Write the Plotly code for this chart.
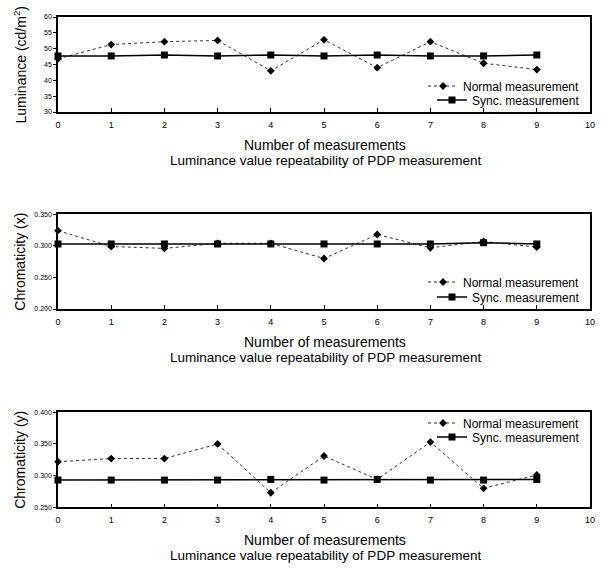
import plotly.graph_objects as go

x_vals = [0, 1, 2, 3, 4, 5, 6, 7, 8, 9]

lum_normal = [46.8, 51.3, 52.2, 52.6, 43.0, 52.8, 44.0, 52.2, 45.4, 43.4]
lum_sync = [47.7, 47.7, 48.0, 47.7, 48.0, 47.7, 48.0, 47.7, 47.7, 48.0]

cx_normal = [0.324, 0.299, 0.296, 0.304, 0.304, 0.280, 0.318, 0.297, 0.307, 0.298]
cx_sync = [0.303, 0.303, 0.303, 0.303, 0.303, 0.303, 0.303, 0.303, 0.305, 0.303]

cy_normal = [0.322, 0.327, 0.327, 0.350, 0.273, 0.331, 0.294, 0.353, 0.280, 0.301]
cy_sync = [0.293, 0.293, 0.293, 0.293, 0.294, 0.293, 0.294, 0.293, 0.293, 0.294]

y_titles = ["Luminance (cd/m<sup>2</sup>)", "Chromaticity (x)", "Chromaticity (y)"]
xlabel_1 = "Number of measurements"
xlabel_2 = "Luminance value repeatability of PDP measurement"
legend_names = ["Normal measurement", "Sync. measurement"]

W, H = 604, 571
def py(p):
    return 1 - p / H

left, right = 58 / W, 590 / W
panels = [(17, 112), (214.3, 309), (412.3, 507.3)]
yranges = [[30, 60], [0.2, 0.35], [0.25, 0.4]]
ydticks = [5, 0.05, 0.05]
yfmts = ["d", ".3f", ".3f"]
legend_centers = [(86, 100), (282, 297), (423, 437)]
series = [(lum_normal, lum_sync), (cx_normal, cx_sync), (cy_normal, cy_sync)]

fig = go.Figure()
FONT = "Liberation Sans, Arial, sans-serif"
annotations = []

for i, ((top, bot), (nv, sv)) in enumerate(zip(panels, series)):
    n = "" if i == 0 else str(i + 1)
    xa, ya = "x" + n, "y" + n
    lg_a = "legend" + ("" if i == 0 else str(2 * i + 1))
    lg_b = "legend" + str(2 * i + 2)
    fig.add_trace(go.Scatter(x=x_vals, y=nv, name=legend_names[0], mode="lines+markers",
                             line=dict(color="#333333", width=1, dash="dot"),
                             marker=dict(symbol="diamond", size=6, color="black"),
                             xaxis=xa, yaxis=ya, legend=lg_a, cliponaxis=False, showlegend=True))
    fig.add_trace(go.Scatter(x=x_vals, y=sv, name=legend_names[1], mode="lines+markers",
                             line=dict(color="black", width=1.5),
                             marker=dict(symbol="square", size=7, color="black"),
                             xaxis=xa, yaxis=ya, legend=lg_b, cliponaxis=False, showlegend=True))
    fig.layout["xaxis" + n] = dict(domain=[left, right], range=[0, 10], dtick=1, tick0=0,
                                   anchor=ya, showline=True, linecolor="black", linewidth=1.5,
                                   mirror=True, ticks="inside", ticklen=4, tickcolor="black",
                                   showgrid=False, zeroline=False,
                                   tickfont=dict(size=9, family=FONT, color="black"),
                                   ticklabelstandoff=3)
    fig.layout["yaxis" + n] = dict(domain=[py(bot), py(top)], range=yranges[i], dtick=ydticks[i],
                                   tickformat=yfmts[i], anchor=xa, showline=True, linecolor="black",
                                   linewidth=1.5, mirror=True, ticks="outside", ticklen=3,
                                   tickcolor="black", showgrid=False, zeroline=False,
                                   tickfont=dict(size=7, family=FONT, color="black"))
    for lg, cy in ((lg_a, legend_centers[i][0]), (lg_b, legend_centers[i][1])):
        fig.layout[lg] = dict(x=585 / W, xanchor="right", y=py(cy), yanchor="middle",
                              bgcolor="rgba(0,0,0,0)", font=dict(size=12, family=FONT, color="black"),
                              itemwidth=30, borderwidth=0)
    mid = (top + bot) / 2
    annotations.append(dict(text=y_titles[i], x=20 / W, y=py(mid), xref="paper", yref="paper",
                            textangle=-90, showarrow=False, xanchor="center", yanchor="middle",
                            font=dict(size=14, family=FONT, color="black")))
    annotations.append(dict(text=xlabel_1, x=325 / W, y=py(bot + 33), xref="paper", yref="paper",
                            showarrow=False, xanchor="center", yanchor="middle",
                            font=dict(size=14, family=FONT, color="black")))
    annotations.append(dict(text=xlabel_2, x=325 / W, y=py(bot + 48), xref="paper", yref="paper",
                            showarrow=False, xanchor="center", yanchor="middle",
                            font=dict(size=13.5, family=FONT, color="black")))

fig.update_layout(width=W, height=H, margin=dict(l=0, r=0, t=0, b=0, autoexpand=False),
                  showlegend=True,
                  plot_bgcolor="white", paper_bgcolor="white", annotations=annotations)

fig.write_html("out.html", config={"displayModeBar": False},
               post_script="document.body.style.margin='0';")
